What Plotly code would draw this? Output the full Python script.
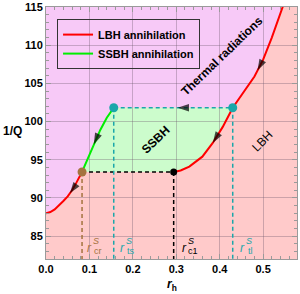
import numpy as np
import plotly.graph_objects as go

# ---- data ----
r_left = [0.0, 0.01, 0.02, 0.03, 0.04, 0.05, 0.06, 0.07, 0.083]
q_left = [88.0, 88.15, 88.5, 89.0, 89.6, 90.2, 91.0, 92.0, 93.4]

r_ssbh = [0.083, 0.095, 0.11, 0.125, 0.14, 0.156]
q_ssbh = [93.4, 95.0, 97.0, 98.9, 100.5, 101.8]

r_lbh = [0.294, 0.31, 0.33, 0.36, 0.384, 0.407, 0.43, 0.45, 0.48, 0.50, 0.52, 0.545, 0.56]
q_lbh = [93.4, 93.6, 94.1, 95.4, 97.2, 99.3, 101.8, 103.4, 105.9, 108.1, 111.0, 115.0, 117.5]

r_cr, r_c1, r_ts, r_tl = 0.083, 0.294, 0.156, 0.43
q_c, q_t = 93.4, 101.8

arrow_r = [0.055, 0.11, 0.303, 0.384, 0.487]
arrow_curve = ["left", "ssbh", "top", "lbh", "lbh"]

x_range = [0.0, 0.578]
y_range = [82.0, 115.0]
x_ticks = [0.0, 0.1, 0.2, 0.3, 0.4, 0.5]
y_ticks = [85, 90, 95, 100, 105, 110, 115]

PINK = "#f7c9f7"
SALMON = "#ffcaca"
GREENF = "#ccfccc"
RED = "#ff0000"
GREEN = "#00ee00"
CYAN = "#1aa7aa"
BROWN = "#a5733f"

fig = go.Figure()

def path(xs, ys):
    pts = [f"{x},{y}" for x, y in zip(xs, ys)]
    return "M " + " L ".join(pts) + " Z"

# pink region (above the curve)
up_r = [r for r, q in zip(r_lbh, q_lbh) if r >= r_tl and q <= y_range[1]]
up_q = [q for r, q in zip(r_lbh, q_lbh) if r >= r_tl and q <= y_range[1]]
px = [x_range[0]] + r_left + r_ssbh + up_r + [x_range[0]]
py = [y_range[1]] + q_left + q_ssbh + up_q + [y_range[1]]
fig.add_shape(type="path", path=path(px, py), fillcolor=PINK, line_width=0, layer="below")

# green region
lo_r = [r for r in r_lbh if r <= r_tl]
lo_q = [q for r, q in zip(r_lbh, q_lbh) if r <= r_tl]
gx = r_ssbh + lo_r[::-1]
gy = q_ssbh + lo_q[::-1]
fig.add_shape(type="path", path=path(gx, gy), fillcolor=GREENF, line_width=0, layer="below")

dash = "4px,3px"
def dline(xs, ys, color):
    fig.add_trace(go.Scatter(x=xs, y=ys, mode="lines", showlegend=False,
                             line=dict(color=color, width=1.5, dash=dash), hoverinfo="skip"))

dline([r_cr, r_cr], [q_c, y_range[0]], BROWN)
dline([r_cr, r_c1], [q_c, q_c], "black")
dline([r_c1, r_c1], [q_c, y_range[0]], "black")
dline([r_ts, r_tl], [q_t, q_t], CYAN)
dline([r_ts, r_ts], [q_t, y_range[0]], CYAN)
dline([r_tl, r_tl], [q_t, y_range[0]], CYAN)

fig.add_trace(go.Scatter(x=r_left + [None] + r_lbh, y=q_left + [None] + q_lbh, mode="lines",
                         name="LBH annihilation", line=dict(color=RED, width=2)))
fig.add_trace(go.Scatter(x=r_ssbh, y=q_ssbh, mode="lines",
                         name="SSBH annihilation", line=dict(color=GREEN, width=2)))

# arrows
curves = {"left": (r_left, q_left), "ssbh": (r_ssbh, q_ssbh), "lbh": (r_lbh, q_lbh)}
for r, c in zip(arrow_r, arrow_curve):
    if c == "top":
        xs, ys = [r + 0.01, r], [q_t, q_t]
    else:
        cr, cq = curves[c]
        xs = [r + 0.004, r]
        ys = [float(np.interp(x, cr, cq)) for x in xs]
    fig.add_trace(go.Scatter(x=xs, y=ys, mode="markers", showlegend=False, hoverinfo="skip",
                             marker=dict(symbol="arrow", angleref="previous", size=[0.1, 12],
                                         color="black", line_width=0)))

# points
fig.add_trace(go.Scatter(x=[r_ts, r_tl], y=[q_t, q_t], mode="markers", showlegend=False,
                         marker=dict(color=CYAN, size=9)))
fig.add_trace(go.Scatter(x=[r_cr], y=[q_c], mode="markers", showlegend=False,
                         marker=dict(color=BROWN, size=9)))
fig.add_trace(go.Scatter(x=[r_c1], y=[q_c], mode="markers", showlegend=False,
                         marker=dict(color="black", size=7)))

FONT = "Liberation Sans"
def ann(x, y, text, size=11, color="black", angle=0, bold=True, xshift=0, yshift=0,
        xref="x", yref="y"):
    fig.add_annotation(x=x, y=y, text=text, showarrow=False, textangle=angle,
                       xshift=xshift, yshift=yshift, xref=xref, yref=yref,
                       xanchor="center", yanchor="middle",
                       font=dict(family=FONT, size=size, color=color,
                                 weight="bold" if bold else "normal"))

ann(0.405, 108.6, "Thermal radiations", size=12, angle=-44)
ann(0.252, 97.6, "SSBH", size=12, angle=-44)
ann(0.499, 97.4, "LBH", size=12, angle=-45, bold=False)

def rlabel(x, sub, color):
    ann(x, 83.5, "<i>r</i>", size=12, color=color, bold=False)
    ann(x, 83.5, "<i>S</i>", size=9, color=color, bold=False, xshift=6, yshift=7)
    ann(x, 83.5, sub, size=9, color=color, bold=False, xshift=8, yshift=-3)

rlabel(0.101, "cr", BROWN)
rlabel(0.177, "ts", CYAN)
rlabel(0.320, "c1", "black")
rlabel(0.453, "tl", CYAN)

ann(-0.135, 98.7, "1/Q", size=12, xref="paper")
ann(0.5, -0.105, "<i>r</i><sub>h</sub>", size=12, xref="paper", yref="paper")

axcommon = dict(showgrid=True, gridcolor="rgba(110,90,110,0.35)", gridwidth=1,
                showline=True, linecolor="#9a9a9a", linewidth=1, mirror="allticks",
                ticks="inside", ticklen=5, tickcolor="#9a9a9a", zeroline=False,
                automargin=False,
                tickfont=dict(family=FONT, size=11, color="black", weight="bold"))

fig.update_xaxes(range=x_range, tickvals=x_ticks, tickformat=".1f",
                 minor=dict(ticks="inside", ticklen=3, dtick=0.02, tickcolor="#9a9a9a", showgrid=False),
                 **axcommon)
fig.update_yaxes(range=y_range, tickvals=y_ticks,
                 minor=dict(ticks="inside", ticklen=3, dtick=1, tickcolor="#9a9a9a", showgrid=False),
                 **axcommon)

fig.update_layout(width=300, height=294, margin=dict(l=46, r=3, t=7, b=35, autoexpand=False),
                  plot_bgcolor=SALMON, paper_bgcolor="white",
                  legend=dict(x=0.044, y=0.952, xanchor="left", yanchor="top",
                              bgcolor="rgba(0,0,0,0)", bordercolor="#333", borderwidth=1,
                              itemwidth=30, tracegroupgap=0,
                              font=dict(family=FONT, size=11, color="black", weight="bold")))

fig.write_html("out.html", config={"displayModeBar": False},
               post_script="document.body.style.margin='0';document.body.style.padding='0';")
